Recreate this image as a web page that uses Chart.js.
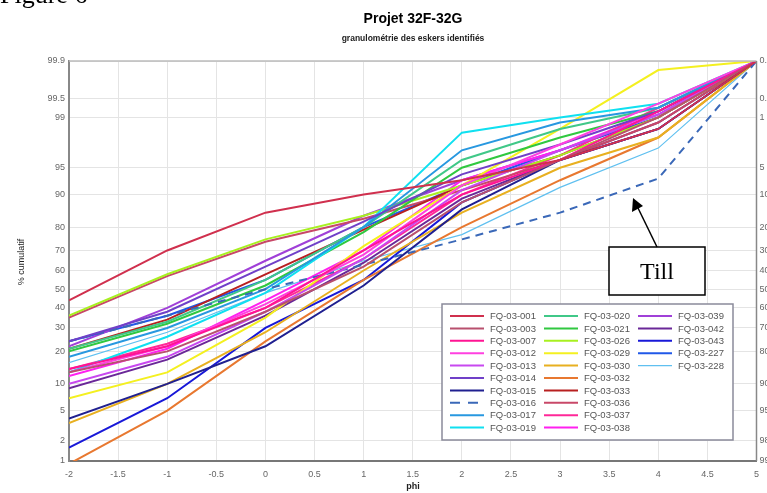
<!DOCTYPE html>
<html lang="fr">
<head>
<meta charset="UTF-8">
<title>Projet 32F-32G</title>
<script src="https://cdn.jsdelivr.net/npm/chart.js"></script>
<style>
  body { margin: 0; background: #fff; overflow: hidden; }
  canvas { display: block; }
</style>
</head>
<body>
<canvas id="chart" width="767" height="493"></canvas>
<script>
// phi classes
var phi = [-2, -1, 0, 1, 2, 3, 4, 5];

// cumulative % per sample
var fq001 = [44, 70, 85, 90, 93, 96, 98.5, 99.9];
var fq003 = [13, 20, 38, 62, 88, 96, 99, 99.9];
var fq007 = [14, 22, 40, 70, 90, 96, 99.2, 99.9];
var fq012 = [13, 22, 42, 68, 92, 97.5, 99.4, 99.9];
var fq013 = [10, 18, 38, 66, 91, 97, 99.1, 99.9];
var fq014 = [24, 38, 62, 82, 94, 97.5, 99.2, 99.9];
var fq015 = [4, 10, 22, 52, 86, 96, 98.5, 99.9];
var fq016 = [24, 36, 50, 63, 75, 85, 93.3, 99.9];
var fq017 = [18, 30, 50, 80, 97, 98.8, 99.3, 99.9];
var fq019 = [13, 26, 48, 80, 98.3, 99, 99.4, 99.9];
var fq020 = [21, 33, 55, 80, 96, 98.5, 99.3, 99.9];
var fq021 = [20, 32, 52, 78, 95, 98, 99.2, 99.9];
var fq026 = [36, 58, 75, 84, 92, 96.5, 99, 99.9];
var fq029 = [7, 13, 35, 72, 92, 98.5, 99.85, 99.9];
var fq030 = [3.5, 10, 28, 60, 85, 95, 98, 99.9];
var fq032 = [0.9, 5, 24, 55, 80, 93, 98, 99.9];
var fq033 = [21, 34, 58, 79, 92, 96.5, 99, 99.9];
var fq036 = [35, 57, 74, 83, 91, 96, 98.8, 99.9];
var fq037 = [14, 23, 40, 66, 90, 96.5, 99.3, 99.9];
var fq038 = [12, 21, 44, 70, 93, 97, 99.2, 99.9];
var fq039 = [22, 40, 65, 84, 93, 97, 99.1, 99.9];
var fq042 = [9, 17, 36, 64, 89, 96, 98.8, 99.9];
var fq043 = [1.6, 7, 30, 55, 88, 96, 98.5, 99.9];
var fq227 = [24, 36, 55, 80, 92, 97, 99, 99.9];
var fq228 = [16, 28, 48, 65, 77, 91.6, 97.2, 99.9];

var names = ['FQ-03-001', 'FQ-03-003', 'FQ-03-007', 'FQ-03-012', 'FQ-03-013', 'FQ-03-014', 'FQ-03-015',
  'FQ-03-016', 'FQ-03-017', 'FQ-03-019', 'FQ-03-020', 'FQ-03-021', 'FQ-03-026', 'FQ-03-029', 'FQ-03-030',
  'FQ-03-032', 'FQ-03-033', 'FQ-03-036', 'FQ-03-037', 'FQ-03-038', 'FQ-03-039', 'FQ-03-042', 'FQ-03-043',
  'FQ-03-227', 'FQ-03-228'];
var series = [fq001, fq003, fq007, fq012, fq013, fq014, fq015, fq016, fq017, fq019, fq020, fq021, fq026,
  fq029, fq030, fq032, fq033, fq036, fq037, fq038, fq039, fq042, fq043, fq227, fq228];
var colors = ['#d0304e', '#b8506e', '#ff1493', '#ff40e0', '#c848f0', '#7040c8', '#202090',
  '#3a68b8', '#2898e0', '#10e0f0', '#40c888', '#30c840', '#a8f020', '#f4f020', '#e8b020',
  '#e87830', '#b82020', '#c84868', '#ff2898', '#ff20f0', '#a040d8', '#6a2898', '#1818d8',
  '#2058e8', '#60c0f0'];

var yTicks = [1, 2, 5, 10, 20, 30, 40, 50, 60, 70, 80, 90, 95, 99, 99.5, 99.9];
var yTicksRight = [99, 98, 95, 90, 80, 70, 60, 50, 40, 30, 20, 10, 5, 1, 0.5, 0.1];
var xTicks = [-2, -1.5, -1, -0.5, 0, 0.5, 1, 1.5, 2, 2.5, 3, 3.5, 4, 4.5, 5];

// inverse normal cdf (Acklam), gives the probability-paper position
function probit(pc) {
  var p = pc / 100;
  var a = [-39.6968302866538, 220.946098424521, -275.928510446969, 138.357751867269, -30.6647980661472, 2.50662827745924];
  var b = [-54.4760987982241, 161.585836858041, -155.698979859887, 66.8013118877197, -13.2806815528857];
  var c = [-0.00778489400243029, -0.322396458041136, -2.40075827716184, -2.54973253934373, 4.37466414146497, 2.93816398269878];
  var d = [0.00778469570904146, 0.32246712907004, 2.445134137143, 3.75440866190742];
  var q, r;
  if (p < 0.02425) {
    q = Math.sqrt(-2 * Math.log(p));
    return (((((c[0]*q+c[1])*q+c[2])*q+c[3])*q+c[4])*q+c[5]) / ((((d[0]*q+d[1])*q+d[2])*q+d[3])*q+1);
  }
  if (p > 1 - 0.02425) {
    q = Math.sqrt(-2 * Math.log(1 - p));
    return -(((((c[0]*q+c[1])*q+c[2])*q+c[3])*q+c[4])*q+c[5]) / ((((d[0]*q+d[1])*q+d[2])*q+d[3])*q+1);
  }
  q = p - 0.5; r = q * q;
  return (((((a[0]*r+a[1])*r+a[2])*r+a[3])*r+a[4])*r+a[5])*q / (((((b[0]*r+b[1])*r+b[2])*r+b[3])*r+b[4])*r+1);
}

var datasets = series.map(function (vals, i) {
  return {
    label: names[i],
    data: vals.map(function (v, j) { return { x: phi[j], y: probit(v) }; }),
    borderColor: colors[i],
    backgroundColor: colors[i],
    borderWidth: names[i] === 'FQ-03-228' ? 1.2 : 2,
    borderDash: names[i] === 'FQ-03-016' ? [8, 6] : [],
    pointRadius: 0,
    tension: 0
  };
});

var tickFont = { family: 'Liberation Sans', size: 9 };

var decor = {
  id: 'decor',
  afterDraw: function (chart) {
    var ctx = chart.ctx, a = chart.chartArea, ys = chart.scales.y;
    ctx.save();
    // frame
    ctx.strokeStyle = '#bbb'; ctx.lineWidth = 1.5;
    ctx.beginPath(); ctx.moveTo(a.left, a.top); ctx.lineTo(a.right, a.top); ctx.stroke();
    ctx.strokeStyle = '#888';
    ctx.beginPath(); ctx.moveTo(a.right, a.top); ctx.lineTo(a.right, a.bottom); ctx.stroke();

    // right-hand complementary labels (cut by the page edge)
    ctx.font = '9px "Liberation Sans"'; ctx.fillStyle = '#666';
    ctx.textAlign = 'left'; ctx.textBaseline = 'middle';
    yTicks.forEach(function (v, i) {
      ctx.fillText(String(yTicksRight[i]), a.right + 3, ys.getPixelForValue(probit(v)));
    });

    // titles
    ctx.fillStyle = '#000'; ctx.textAlign = 'center'; ctx.textBaseline = 'middle';
    ctx.font = 'bold 14px "Liberation Sans"';
    ctx.fillText('Projet 32F-32G', 413, 19);
    ctx.font = 'bold 8.5px "Liberation Sans"';
    ctx.fillStyle = '#222';
    ctx.fillText('granulométrie des eskers identifiés', 413, 39);
    ctx.font = 'bold 9px "Liberation Sans"';
    ctx.fillText('phi', 413, 487);
    ctx.save();
    ctx.translate(22, 262); ctx.rotate(-Math.PI / 2);
    ctx.font = '9px "Liberation Sans"';
    ctx.fillText('% cumulatif', 0, 0);
    ctx.restore();

    ctx.font = '26px "Liberation Serif"';
    ctx.textAlign = 'left'; ctx.textBaseline = 'alphabetic'; ctx.fillStyle = '#000';
    ctx.fillText('Figure 6', 0, 3);

    // legend box
    ctx.fillStyle = '#fff'; ctx.strokeStyle = '#8a8a9a'; ctx.lineWidth = 1.5;
    ctx.fillRect(442, 304, 291, 136); ctx.strokeRect(442, 304, 291, 136);
    var colX = [450, 544, 638];
    ctx.font = '9.5px "Liberation Sans"'; ctx.textBaseline = 'middle';
    chart.data.datasets.forEach(function (ds, i) {
      var col = Math.floor(i / 10), row = i % 10;
      var x = colX[col], y = 316 + row * 12.4;
      ctx.strokeStyle = ds.borderColor; ctx.lineWidth = ds.borderWidth;
      ctx.setLineDash(ds.borderDash.length ? [10, 8] : []);
      ctx.beginPath(); ctx.moveTo(x, y); ctx.lineTo(x + 34, y); ctx.stroke();
      ctx.setLineDash([]);
      ctx.fillStyle = '#555';
      ctx.fillText(ds.label, x + 40, y + 0.5);
    });

    // Till callout
    ctx.strokeStyle = '#000'; ctx.lineWidth = 1.5; ctx.fillStyle = '#fff';
    ctx.fillRect(609, 247, 96, 48); ctx.strokeRect(609, 247, 96, 48);
    ctx.fillStyle = '#000'; ctx.font = '24px "Liberation Serif"'; ctx.textAlign = 'center';
    ctx.fillText('Till', 657, 273);
    ctx.beginPath(); ctx.moveTo(657, 247); ctx.lineTo(638, 208); ctx.stroke();
    ctx.beginPath(); ctx.moveTo(633, 198); ctx.lineTo(632, 212); ctx.lineTo(643, 206); ctx.closePath(); ctx.fill();
    ctx.restore();
  }
};

new Chart(document.getElementById('chart'), {
  type: 'line',
  data: { datasets: datasets },
  plugins: [decor],
  options: {
    responsive: false,
    animation: false,
    layout: { padding: { top: 61, left: 0, right: 10, bottom: 0 } },
    plugins: { legend: { display: false }, title: { display: false }, tooltip: { enabled: false } },
    scales: {
      x: {
        type: 'linear', min: -2, max: 5,
        afterBuildTicks: function (s) { s.ticks = xTicks.map(function (v) { return { value: v }; }); },
        afterFit: function (s) { s.height = 32; },
        grid: { color: '#e4e4e4', drawTicks: false },
        border: { color: '#777', width: 2 },
        ticks: { font: tickFont, color: '#666', padding: 8, maxRotation: 0, autoSkip: false,
          callback: function (v) { return String(v); } }
      },
      y: {
        type: 'linear', position: 'left', min: probit(1), max: probit(99.9),
        afterBuildTicks: function (s) { s.ticks = yTicks.map(function (v) { return { value: probit(v) }; }); },
        afterFit: function (s) { s.width = 69; },
        grid: { color: '#e4e4e4', drawTicks: false },
        border: { color: '#888', width: 2 },
        ticks: { font: tickFont, color: '#666', padding: 4, autoSkip: false,
          callback: function (v, i) { return String(yTicks[i]); } }
      }
    }
  }
});
</script>
</body>
</html>
